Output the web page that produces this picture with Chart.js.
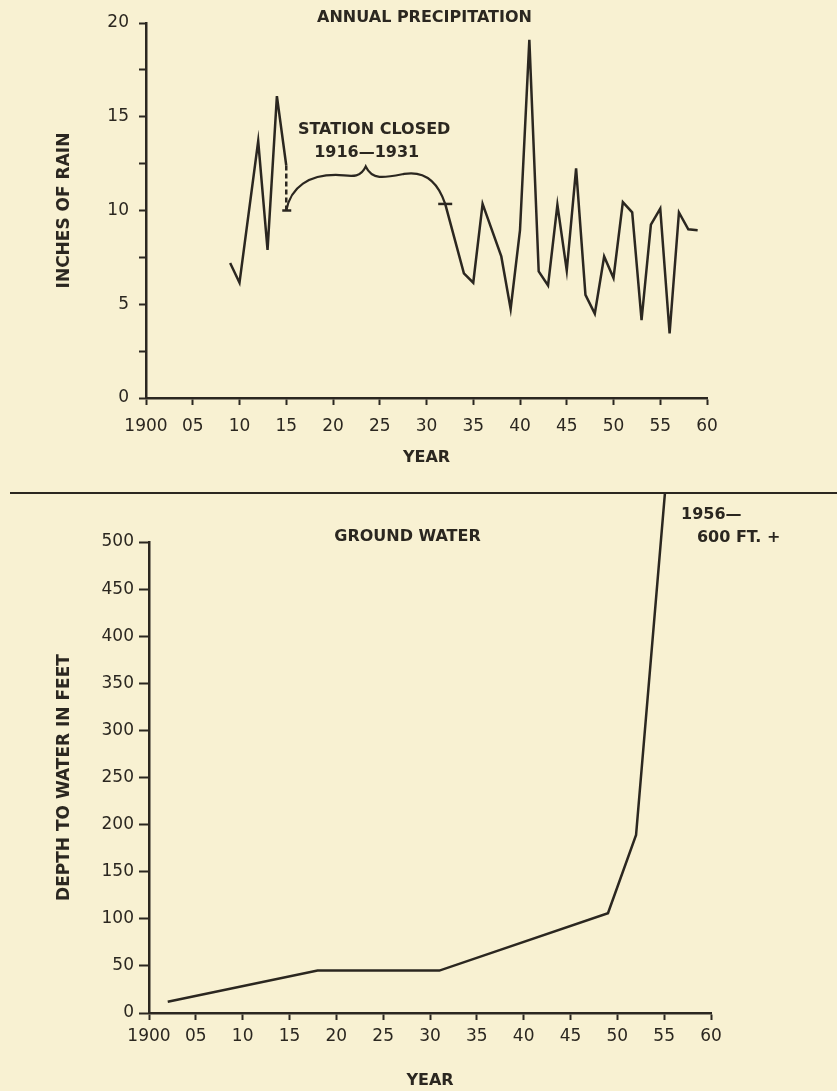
<!DOCTYPE html>
<html>
<head>
<meta charset="utf-8">
<script src="https://cdn.jsdelivr.net/npm/chart.js@4.4.0/dist/chart.umd.min.js"></script>
<style>
  html, body { margin: 0; padding: 0; background: #f8f1d2; }
  #page { position: relative; width: 837px; height: 1091px; overflow: hidden; }
  #rainChart { position: absolute; left: 0; top: 0; }
  #groundChart { position: absolute; left: 0; top: 494px; }
  .rule { position: absolute; left: 10px; top: 492px; width: 827px; height: 2px; background: #2b2720; z-index: 2; }
</style>
</head>
<body>
<div id="page">
  <canvas id="rainChart" width="837" height="493"></canvas>
  <div class="rule"></div>
  <canvas id="groundChart" width="837" height="597"></canvas>
</div>
<script>
// ===============================
// Precipitation / ground water
// ===============================

// Annual precipitation (null = station closed 1916-1931)
const rainYears  = [1909, 1910, 1912, 1913, 1914, 1915, 1923,
                    1932, 1934, 1935, 1936, 1938, 1939, 1940, 1941, 1942, 1943, 1944, 1945,
                    1946, 1947, 1948, 1949, 1950, 1951, 1952, 1953, 1954, 1955, 1956, 1957, 1958, 1959];
const rainInches = [7.2, 6.15, 13.7, 7.9, 16.1, 12.4, null,
                    10.35, 6.65, 6.15, 10.35, 7.55, 4.75, 8.95, 19.1, 6.75, 6.0, 10.3, 6.8,
                    12.25, 5.5, 4.5, 7.55, 6.4, 10.45, 9.9, 4.15, 9.25, 10.1, 3.45, 9.9, 9.0, 8.95];

// Depth to ground water (last one runs off the top: "1956 - 600 ft +")
const groundYears = [1902, 1918, 1931, 1949, 1952, 1956];
const groundFeet  = [12, 45, 45, 106, 189, 660];

// Tick labels
const yearTickLabels = ["1900","05","10","15","20","25","30","35","40","45","50","55","60"];
const rainTickLabels = ["0", "5", "10", "15", "20"];

const INK = "#2b2720";
const FONT = "DejaVu Sans";

Chart.defaults.font.family = FONT;
Chart.defaults.color = INK;

const yearLabel = v => yearTickLabels[(v - 1900) / 5] ?? "";

function axisStyle(tick) {
  return {
    grid: { drawOnChartArea: false, drawTicks: true, tickLength: tick, tickWidth: 2, tickColor: INK },
    border: { display: true, color: INK, width: 2.5 }
  };
}

// ----- station closed note, brace and markers -----
const rainNotes = {
  id: "rainNotes",
  afterDatasetsDraw(chart) {
    const { ctx, scales: { x, y } } = chart;
    const P = (a, b) => [x.getPixelForValue(a), y.getPixelForValue(b)];
    const gap = rainInches.indexOf(null);
    const before = [rainYears[gap - 1], rainInches[gap - 1]];
    const after = [rainYears[gap + 1], rainInches[gap + 1]];

    ctx.save();
    ctx.strokeStyle = INK;
    ctx.fillStyle = INK;
    ctx.lineWidth = 2.5;

    // dashed drop from last reading
    const [dx, dTop] = P(before[0], before[1]);
    const [, dBot] = P(before[0], 10);
    ctx.setLineDash([5, 3]);
    ctx.beginPath(); ctx.moveTo(dx, dTop); ctx.lineTo(dx, dBot); ctx.stroke();
    ctx.setLineDash([]);
    ctx.beginPath(); ctx.moveTo(dx - 4, dBot); ctx.lineTo(dx + 5, dBot); ctx.stroke();

    // brace over the closed years
    const b = (c1, c2, e) => { const p1 = P(...c1), p2 = P(...c2), pe = P(...e); ctx.bezierCurveTo(p1[0], p1[1], p2[0], p2[1], pe[0], pe[1]); };
    ctx.lineWidth = 2.2;
    ctx.beginPath();
    ctx.moveTo(dx, dBot);
    b([1915.5, 11.3], [1917.5, 11.9], [1920.3, 11.9]);
    b([1921.6, 11.9], [1922.8, 11.6], [1923.5, 12.35]);
    b([1924.2, 11.6], [1925.5, 11.75], [1927.6, 11.95]);
    b([1930.0, 12.15], [1931.3, 11.4], after);
    ctx.stroke();

    // marker where readings resume
    const [ax, ay] = P(after[0], after[1]);
    ctx.lineWidth = 2.5;
    ctx.beginPath(); ctx.moveTo(ax - 7, ay); ctx.lineTo(ax + 7, ay); ctx.stroke();

    ctx.textAlign = "center";
    ctx.textBaseline = "middle";
    ctx.font = `bold 16px "${FONT}"`;
    ctx.fillText("ANNUAL PRECIPITATION", (chart.chartArea.left + chart.chartArea.right) / 2 - 2, chart.chartArea.top - 5);
    ctx.fillText("STATION CLOSED", ...P(1924.4, 14.3));
    ctx.fillText("1916\u20141931", ...P(1923.6, 13.1));
    ctx.restore();
  }
};

const groundNotes = {
  id: "groundNotes",
  afterDatasetsDraw(chart) {
    const { ctx, scales: { x, y } } = chart;
    ctx.save();
    ctx.fillStyle = INK;
    ctx.textBaseline = "middle";
    ctx.font = `bold 16px "${FONT}"`;
    ctx.textAlign = "center";
    ctx.fillText("GROUND WATER", x.getPixelForValue(1927.6), y.getPixelForValue(505));
    ctx.textAlign = "left";
    ctx.fillText("1956\u2014", x.getPixelForValue(1956.8), y.getPixelForValue(529));
    ctx.fillText("600 FT. +", x.getPixelForValue(1958.5), y.getPixelForValue(504));
    ctx.restore();
  }
};

// Annual Precipitation (Line)
const rainEl = document.getElementById("rainChart");
if (rainEl) {
  new Chart(rainEl, {
    type: "line",
    data: {
      datasets: [{
        data: rainYears.map((yr, i) => ({ x: yr, y: rainInches[i] })),
        borderColor: INK,
        borderWidth: 2.5,
        borderJoinStyle: "miter",
        pointRadius: 0,
        tension: 0,
        spanGaps: false
      }]
    },
    options: {
      responsive: false,
      animation: false,
      layout: { padding: { left: 0, right: 130, top: 23, bottom: 0 } },
      plugins: { legend: { display: false }, tooltip: { enabled: false } },
      scales: {
        x: {
          type: "linear", min: 1900, max: 1960,
          ...axisStyle(7),
          afterFit: s => { s.height = 95; },
          ticks: { stepSize: 5, autoSkip: false, maxRotation: 0, padding: 11,
                   font: { size: 17 }, callback: yearLabel },
          title: { display: true, text: "YEAR", font: { size: 16, weight: "bold" }, padding: { top: 0, bottom: 26 } }
        },
        y: {
          min: 0, max: 20,
          ...axisStyle(7),
          afterFit: s => { s.width = 146; },
          ticks: { stepSize: 2.5, padding: 10, font: { size: 17 },
                   callback: v => (v % 5 === 0 ? rainTickLabels[v / 5] : "") },
          title: { display: true, text: "INCHES OF RAIN", font: { size: 17, weight: "bold" }, padding: { top: 54, bottom: 0 } }
        }
      }
    },
    plugins: [rainNotes]
  });
}

// Ground Water (Line)
const groundEl = document.getElementById("groundChart");
if (groundEl) {
  new Chart(groundEl, {
    type: "line",
    data: {
      datasets: [{
        data: groundYears.map((yr, i) => ({ x: yr, y: groundFeet[i] })),
        borderColor: INK,
        borderWidth: 2.5,
        pointRadius: 0,
        tension: 0,
        clip: false
      }]
    },
    options: {
      responsive: false,
      animation: false,
      layout: { padding: { left: 0, right: 126, top: 48, bottom: 0 } },
      plugins: { legend: { display: false }, tooltip: { enabled: false } },
      scales: {
        x: {
          type: "linear", min: 1900, max: 1960,
          ...axisStyle(7),
          afterFit: s => { s.height = 78; },
          ticks: { stepSize: 5, autoSkip: false, maxRotation: 0, padding: 6,
                   font: { size: 17 }, callback: yearLabel },
          title: { display: true, text: "YEAR", font: { size: 16, weight: "bold" }, padding: { top: 0, bottom: 1 } }
        },
        y: {
          min: 0, max: 500,
          ...axisStyle(10),
          afterFit: s => { s.width = 149; },
          ticks: { stepSize: 50, padding: 5, font: { size: 17 } },
          title: { display: true, text: "DEPTH TO WATER IN FEET", font: { size: 17, weight: "bold" }, padding: { top: 54, bottom: 0 } }
        }
      }
    },
    plugins: [groundNotes]
  });
}
</script>
</body>
</html>
